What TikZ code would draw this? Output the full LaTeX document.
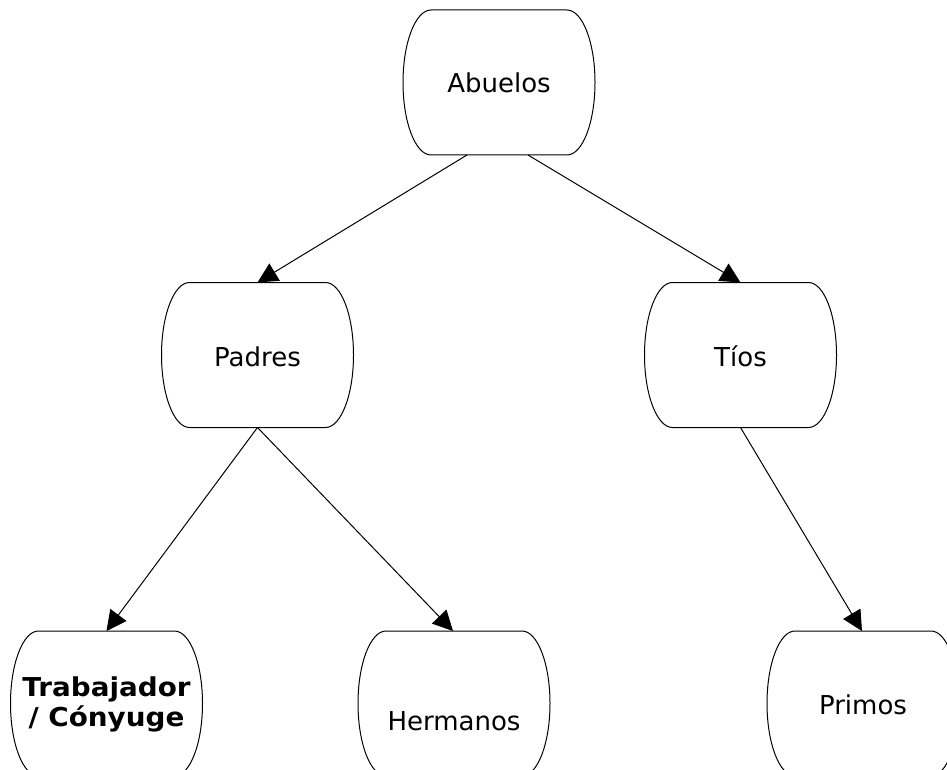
\documentclass[tikz,border=0pt]{standalone}
\usepackage{fontspec}
\setmainfont{DejaVu Sans}
\newfontface\boldwide{DejaVu Sans Bold}[FakeStretch=1.07]
\usetikzlibrary{arrows.meta}
\tikzset{
  famshape/.style={draw=none, rectangle, minimum width=192pt, minimum height=145pt, inner sep=0pt, outer sep=0pt},
  famtext/.style={anchor=base, font=\fontsize{26}{30}\selectfont, inner sep=0pt},
  famline/.style={line width=1pt, black},
  link/.style={line width=1pt, -{Triangle[length=20pt,width=20pt]}},
}
\newcommand{\famoutline}[1]{%
  \draw[famline] ([xshift=28pt]#1.north west) -- ([xshift=-28pt]#1.north east)
    arc[start angle=90,end angle=-90,x radius=28pt,y radius=72.5pt]
    -- ([xshift=28pt]#1.south west)
    arc[start angle=270,end angle=90,x radius=28pt,y radius=72.5pt] -- cycle;}
\begin{document}
\begin{tikzpicture}[x=1pt,y=-1pt]
\useasboundingbox (0,0) rectangle (947,770);
\clip (0,0) rectangle (947,770);
\fill[white] (0,0) rectangle (947,770);
% shapes
\node[famshape] (abu) at (499,82.5) {};
\node[famshape] (pad) at (257.5,355) {};
\node[famshape] (tio) at (740.5,355) {};
\node[famshape] (tra) at (106.5,703.5) {};
\node[famshape] (her) at (454,703.5) {};
\node[famshape] (pri) at (863,703.5) {};
\famoutline{abu}
\famoutline{pad}
\famoutline{tio}
\famoutline{tra}
\famoutline{her}
\famoutline{pri}
% texts
\node[famtext] (abut) at ([yshift=-10.5pt]abu.center) {Abuelos};
\node[famtext] (padt) at ([yshift=-11pt]pad.center) {Padres};
\node[famtext] (tiot) at ([yshift=-11.5pt]tio.center) {Tíos};
\node[famtext, font=\fontsize{26}{29.5}\selectfont\boldwide, align=center] (trat) at ([yshift=-22.5pt]tra.center) {Trabajador\\ / Cónyuge};
\node[famtext] (hert) at ([yshift=-26.5pt]her.center) {Hermanos};
\node[famtext] (prit) at ([yshift=-10.5pt]pri.center) {Primos};
% connectors
\draw[link] ([xshift=-32pt]abu.south) -- (pad.north);
\draw[link] ([xshift=29pt]abu.south) -- (tio.north);
\draw[link] (pad.south) -- (tra.north);
\draw[link] (pad.south) -- ([xshift=-1pt]her.north);
\draw[link] (tio.south) -- ([xshift=-1pt]pri.north);
\end{tikzpicture}
\end{document}
